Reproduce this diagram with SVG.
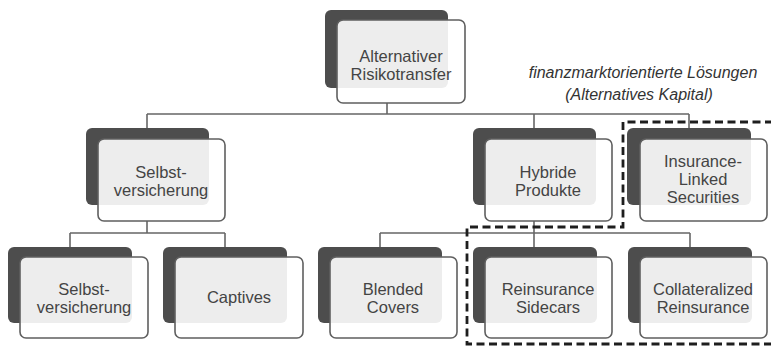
<svg xmlns="http://www.w3.org/2000/svg" width="771" height="347" viewBox="0 0 771 347">
<style>
.shadow{fill:#4d4d4d;}
.card{fill:#ffffff;fill-opacity:0.9;stroke:#5f5f5f;stroke-width:1.6;}
.lbl{font-family:"Liberation Sans",Arial,sans-serif;font-size:16.5px;fill:#444444;text-anchor:middle;}
.note{font-family:"Liberation Sans",Arial,sans-serif;font-size:16px;font-style:italic;fill:#333333;text-anchor:middle;}
.conn{fill:none;stroke:#666666;stroke-width:1.6;}
.dash{fill:none;stroke:#1e1e1e;stroke-width:2.8;stroke-dasharray:8,4.5;}
</style>
<rect width="771" height="347" fill="#ffffff"/>
<g id="connectors">
<path class="conn" d="M387 103V114M147 114H689M147 114V128M534 114V128M689 114V128"/>
<path class="conn" d="M147 221V233M70 233H225M70 233V247M225 233V247"/>
<path class="conn" d="M534 221V233M380 233H690M380 233V247M534 233V247M690 233V247"/>
</g>
<g id="node-alternativer-risikotransfer">
<rect class="shadow" x="325" y="10" width="123" height="78" rx="6"/>
<rect class="card" x="337" y="20" width="128" height="83" rx="6"/>
<text class="lbl" x="401" y="62">Alternativer</text>
<text class="lbl" x="401" y="80">Risikotransfer</text>
</g>
<g id="node-selbstversicherung-mid">
<rect class="shadow" x="86" y="128" width="123" height="77" rx="6"/>
<rect class="card" x="98" y="139" width="127" height="82" rx="6"/>
<text class="lbl" x="161" y="178">Selbst-</text>
<text class="lbl" x="161" y="196">versicherung</text>
</g>
<g id="node-hybride-produkte">
<rect class="shadow" x="473" y="128" width="123" height="77" rx="6"/>
<rect class="card" x="485" y="139" width="127" height="82" rx="6"/>
<text class="lbl" x="548" y="178">Hybride</text>
<text class="lbl" x="548" y="196">Produkte</text>
</g>
<g id="node-ils">
<rect class="shadow" x="627" y="128" width="124" height="77" rx="6"/>
<rect class="card" x="640" y="139" width="127" height="82" rx="6"/>
<text class="lbl" x="703" y="167">Insurance-</text>
<text class="lbl" x="703" y="185">Linked</text>
<text class="lbl" x="703" y="203">Securities</text>
</g>
<g id="node-selbstversicherung-low">
<rect class="shadow" x="8" y="247" width="124" height="76" rx="6"/>
<rect class="card" x="20" y="257" width="128" height="81" rx="6"/>
<text class="lbl" x="84" y="295">Selbst-</text>
<text class="lbl" x="84" y="313">versicherung</text>
</g>
<g id="node-captives">
<rect class="shadow" x="163" y="247" width="124" height="76" rx="6"/>
<rect class="card" x="175" y="257" width="128" height="81" rx="6"/>
<text class="lbl" x="239" y="303">Captives</text>
</g>
<g id="node-blended-covers">
<rect class="shadow" x="318" y="247" width="124" height="76" rx="6"/>
<rect class="card" x="330" y="257" width="127" height="81" rx="6"/>
<text class="lbl" x="393" y="295">Blended</text>
<text class="lbl" x="393" y="313">Covers</text>
</g>
<g id="node-reinsurance-sidecars">
<rect class="shadow" x="473" y="247" width="124" height="76" rx="6"/>
<rect class="card" x="485" y="257" width="127" height="81" rx="6"/>
<text class="lbl" x="548" y="295">Reinsurance</text>
<text class="lbl" x="548" y="313">Sidecars</text>
</g>
<g id="node-collateralized-reinsurance">
<rect class="shadow" x="628" y="247" width="124" height="76" rx="6"/>
<rect class="card" x="640" y="257" width="127" height="81" rx="6"/>
<text class="lbl" x="703" y="295">Collateralized</text>
<text class="lbl" x="703" y="313">Reinsurance</text>
</g>
<g id="region-alternatives-kapital">
<path class="dash" d="M773 122H623V227H467V344H773"/>
<text class="note" x="643" y="78">finanzmarktorientierte Lösungen</text>
<text class="note" x="639" y="100">(Alternatives Kapital)</text>
</g>
</svg>
